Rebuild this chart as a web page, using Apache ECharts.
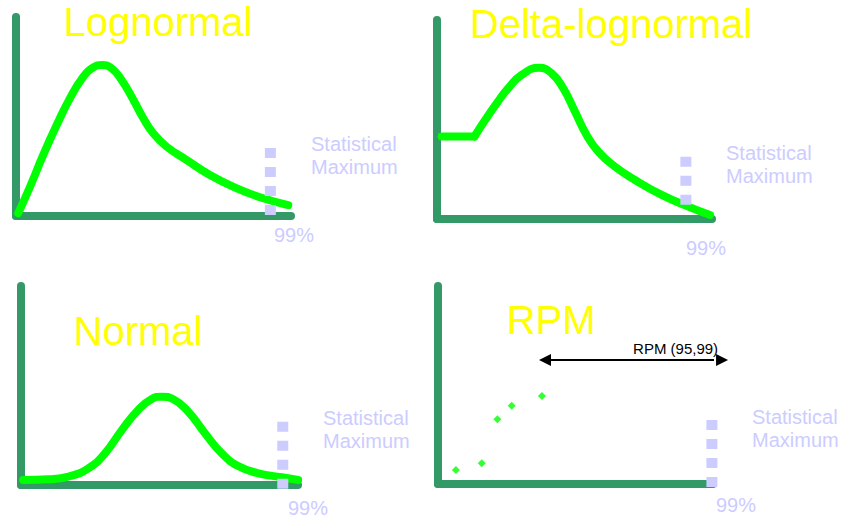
<!DOCTYPE html>
<html><head><meta charset="utf-8">
<script src="https://cdn.jsdelivr.net/npm/echarts@6/dist/echarts.min.js"></script>
<style>html,body{margin:0;padding:0;background:#fff}#c{width:841px;height:519px}</style>
</head><body><div id="c"></div>
<script>
// ---- data (each panel uses a 0..100 x 0..100 value space) ----
const panelTitles = ['Lognormal', 'Delta-lognormal', 'Normal', 'RPM'];
const lognormalCurve = [[0.8,1.4],[5.1,14.7],[9.9,30.7],[14.8,45.7],[19.6,59.1],[24.5,70.0],[28.1,74.7],[31.2,75.9],[34.8,74.2],[38.4,68.3],[42.7,58.3],[46.3,49.1],[49.9,41.6],[54.8,34.8],[62.1,28.1],[70.5,20.6],[80.3,13.9],[89.9,8.9],[99.0,5.5]];
const deltaFlat = [[1.7,41.4],[13.6,41.4]];
const deltaCurve = [[13.6,41.4],[17.5,49.7],[21.7,58.1],[25.9,65.7],[30.8,72.4],[37.1,76.0],[41.7,73.2],[45.9,65.7],[50.2,53.9],[54.4,42.2],[58.7,33.8],[64.7,26.3],[72.0,19.6],[81.7,12.1],[91.4,6.2],[99.3,2.0]];
const normalCurve = [[0.8,2.5],[9.9,2.9],[17.1,4.2],[24.3,8.4],[30.3,15.9],[36.4,27.6],[42.3,37.7],[47.2,43.2],[50.8,44.4],[55.0,43.1],[60.4,36.8],[66.4,26.0],[72.5,15.9],[78.4,9.5],[85.7,5.9],[94.1,3.9],[100.1,2.5]];
const rpmPoints = [[6.5,7.1],[15.9,10.5],[21.6,32.7],[26.8,39.5],[37.8,44.4]];
const rpmRange = [[38.9,62.6],[103.3,62.6]];
const rpmLabel = 'RPM (95,99)';
const statMaxLines = [
  [[92.5,34.2],[92.5,0.5]],
  [[90.5,31.3],[90.5,7.0]],
  [[94.5,31.8],[94.5,-2.0]],
  [[99.6,32.3],[99.6,-2.0]]
];
const statMaxLabel = 'Statistical\nMaximum';
const percentileLabel = '99%';

// ---- layout / style ----
const grids = [
  {left:16, top:17, width:275, height:199},
  {left:437, top:20, width:275, height:199},
  {left:21, top:286, width:277, height:199},
  {left:438, top:286, width:275, height:198}
];
const titlePos = [[158,22],[611,24],[138,331],[551,320]];
const statPos = [[311,155.5],[726,164.5],[323,429.5],[752,428.5]];
const pctPos = [[274,235],[686,248],[288,508],[716,505]];
const FONT = '"Liberation Sans", Arial, sans-serif';
const AXIS = '#339966', CURVE = '#00FF00', LAV = '#CCCCFF', TITLE = '#FFFF00';

const axisCommon = {
  type:'value', min:0, max:100,
  axisLine:{show:true, onZero:false, lineStyle:{color:AXIS, width:8, cap:'round'}},
  axisTick:{show:false}, axisLabel:{show:false}, splitLine:{show:false}
};
const xAxis = grids.map((g,i)=>Object.assign({gridIndex:i}, axisCommon));
const yAxis = grids.map((g,i)=>Object.assign({gridIndex:i}, axisCommon));

const curveStyle = {color:CURVE, width:8, cap:'round', join:'round'};
function curve(idx, data, smooth){
  return {type:'line', xAxisIndex:idx, yAxisIndex:idx, data, smooth, symbol:'none',
    clip:false, silent:true, z:3, lineStyle:curveStyle};
}
const series = [
  curve(0, lognormalCurve, 0.5),
  curve(1, deltaFlat, false),
  curve(1, deltaCurve, 0.5),
  curve(2, normalCurve, 0.5),
  {type:'scatter', xAxisIndex:3, yAxisIndex:3, data:rpmPoints, symbol:'diamond', symbolSize:8,
    itemStyle:{color:CURVE}, silent:true, z:3, clip:false},
  {type:'line', xAxisIndex:3, yAxisIndex:3, clip:false, silent:true, z:4,
    symbol:'triangle', symbolSize:12, showSymbol:true,
    itemStyle:{color:'#000'}, lineStyle:{color:'#000', width:2},
    data:[
      {value:rpmRange[0], symbolRotate:90},
      {value:rpmRange[1], symbolRotate:-90,
        label:{show:true, formatter:rpmLabel, position:'top', align:'right', offset:[-4,7],
          color:'#000', fontSize:15, fontFamily:FONT}}
    ]}
];
statMaxLines.forEach((d,i)=>{
  series.push({type:'line', xAxisIndex:i, yAxisIndex:i, data:d, symbol:'none', clip:false, silent:true, z:6,
    lineStyle:{color:LAV, width:11, type:[10,9], cap:'butt'}});
});

const graphic = [];
panelTitles.forEach((t,i)=>{
  graphic.push({type:'text', x:titlePos[i][0], y:titlePos[i][1], z:10, silent:true,
    style:{text:t, fill:TITLE, fontSize:40, fontFamily:FONT, align:'center', verticalAlign:'middle'}});
  graphic.push({type:'text', x:statPos[i][0], y:statPos[i][1], z:10, silent:true,
    style:{text:statMaxLabel, fill:LAV, fontSize:20, lineHeight:23, fontFamily:FONT, align:'left', verticalAlign:'middle'}});
  graphic.push({type:'text', x:pctPos[i][0], y:pctPos[i][1], z:10, silent:true,
    style:{text:percentileLabel, fill:LAV, fontSize:20, fontFamily:FONT, align:'left', verticalAlign:'middle'}});
});

const chart = echarts.init(document.getElementById('c'), null, {renderer:'svg'});
chart.setOption({
  animation:false, backgroundColor:'#fff',
  grid: grids.map(g=>Object.assign({containLabel:false}, g)),
  xAxis, yAxis, series, graphic
});
</script></body></html>
